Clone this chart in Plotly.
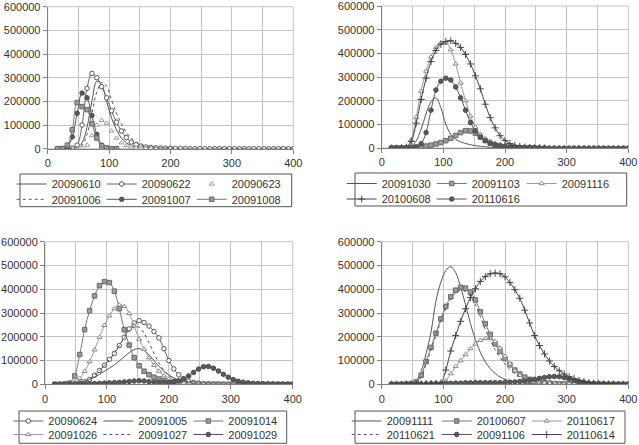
import plotly.graph_objects as go

# ---------------- data (values in thousands) ----------------
X = [16, 24, 32, 40, 48, 56, 64, 72, 80, 88,
     96, 104, 112, 120, 128, 136, 144, 152, 160, 168,
     176, 184, 192, 200, 208, 216, 224, 232, 240, 248,
     256, 264, 272, 280, 288, 296, 304, 312, 320, 328,
     336, 344, 352, 360, 368, 376, 384, 392, 400]

X_TICKS = [0, 100, 200, 300, 400]
Y_TICKS = [0, 100000, 200000, 300000, 400000, 500000, 600000]

# panel 1 (top left)
p1_20090610 = [0, 0, 0, 1, 5, 25, 90, 200, 285, 270,
               200, 130, 80, 45, 25, 13, 7, 4, 2, 1,
               1, 0, 0, 0, 0, 0, 0, 0, 0, 0,
               0, 0, 0, 0, 0, 0, 0, 0, 0, 0,
               0, 0, 0, 0, 0, 0, 0, 0, 0]
p1_20090622 = [0, 0, 1, 3, 15, 100, 255, 318, 300, 262,
               215, 160, 112, 75, 47, 28, 17, 11, 7, 5,
               4, 3, 2, 2, 1, 1, 1, 0, 0, 0,
               0, 0, 0, 0, 0, 0, 0, 0, 0, 0,
               0, 0, 0, 0, 0, 0, 0, 0, 0]
p1_20090623 = [0, 0, 0, 0, 1, 3, 15, 55, 100, 120,
               108, 75, 45, 25, 13, 7, 4, 2, 1, 1,
               0, 0, 0, 0]
p1_20091006 = [0, 0, 0, 1, 3, 15, 60, 150, 240, 280,
               265, 205, 150, 105, 70, 45, 28, 17, 10, 6,
               4, 2, 1, 0, 0, 0, 0, 0, 0, 0,
               0, 0, 0, 0, 0, 0, 0, 0, 0, 0,
               0, 0, 0, 0, 0, 0, 0, 0, 0]
p1_20091007 = [0, 0, 8, 50, 150, 235, 215, 140, 60, 15,
               3, 0, 0]
p1_20091008 = [0, 1, 15, 80, 195, 178, 165, 105, 45, 12,
               3, 0, 0]

# panel 2 (top right)
p2_20091030 = [0, 0, 0, 1, 6, 30, 80, 145, 195, 212,
               170, 100, 58, 37, 26, 19, 14, 10, 7, 5,
               3, 2, 1, 1, 0, 0, 0, 0, 0, 0,
               0, 0, 0, 0, 0, 0, 0, 0, 0, 0,
               0, 0, 0, 0, 0, 0, 0, 0, 0]
p2_20091103 = [0, 0, 0, 1, 2, 3, 5, 8, 12, 17,
               23, 31, 41, 53, 65, 73, 72, 62, 47, 32,
               20, 12, 7, 4, 3, 2, 1, 1, 0, 0]
p2_20091116 = [0, 0, 1, 5, 35, 130, 240, 325, 385, 425,
               445, 445, 415, 355, 275, 200, 135, 88, 58, 40,
               29, 21, 15, 10, 7, 5, 3, 2, 1, 1,
               0]
p2_20100608 = [0, 0, 1, 4, 28, 105, 205, 295, 365, 412,
               438, 450, 453, 442, 425, 395, 355, 305, 250, 185,
               128, 85, 52, 32, 19, 11, 7, 4, 2, 1,
               1, 0]
p2_20110616 = [0, 0, 0, 1, 2, 5, 18, 65, 160, 245,
               282, 295, 287, 258, 212, 160, 108, 72, 47, 31,
               21, 14, 10, 7, 5, 4, 3, 2, 2, 1,
               1, 1, 0, 0, 0, 0, 0, 0, 0, 0,
               0, 0, 0, 0, 0, 0, 0, 0, 0]

# panel 3 (bottom left)
p3_20090624 = [0, 0, 0, 1, 3, 6, 11, 20, 38, 58,
               80, 105, 130, 163, 198, 233, 258, 268, 260, 245,
               222, 195, 150, 100, 65, 40, 23, 13, 8, 5,
               3, 2, 1, 1, 0, 0, 0, 0, 0, 0,
               0, 0, 0, 0, 0, 0, 0, 0, 0]
p3_20091005 = [0, 0, 0, 1, 2, 6, 12, 20, 30, 42,
               55, 68, 82, 98, 116, 133, 146, 150, 142, 124,
               100, 76, 55, 39, 27, 18, 12, 7, 4, 2,
               1, 0]
p3_20091014 = [0, 0, 1, 5, 35, 125, 230, 310, 372, 415,
               432, 428, 392, 318, 230, 165, 112, 78, 55, 40,
               30, 22, 15, 10, 7, 5, 3, 2, 1, 1,
               0, 0, 0, 0, 0, 0, 0, 0, 0, 0,
               0, 0, 0, 0, 0, 0, 0, 0, 0]
p3_20091026 = [0, 0, 0, 2, 8, 25, 55, 95, 145, 198,
               248, 288, 318, 334, 328, 298, 245, 190, 148, 112,
               80, 55, 36, 23, 14, 9, 5, 3, 2, 1,
               0]
p3_20091027 = [0, 0, 0, 1, 2, 6, 13, 24, 38, 56,
               78, 103, 132, 163, 195, 225, 243, 240, 215, 175,
               130, 90, 60, 38, 24, 15, 9, 5, 3, 2,
               1, 0]
p3_20091029 = [0, 0, 0, 1, 1, 2, 2, 3, 3, 4,
               5, 6, 7, 8, 10, 12, 14, 15, 14, 11,
               9, 8, 8, 9, 11, 15, 23, 35, 50, 64,
               74, 75, 68, 56, 42, 30, 20, 13, 9, 6,
               4, 3, 2, 1, 1, 0, 0, 0, 0]

# panel 4 (bottom right)
p4_20091111 = [0, 0, 0, 1, 3, 15, 55, 130, 220, 350,
               430, 478, 495, 470, 410, 335, 255, 188, 135, 95,
               66, 46, 31, 21, 15, 10, 7, 5, 3, 2,
               1, 1, 0, 0]
p4_20100607 = [0, 0, 0, 1, 3, 10, 38, 95, 155, 215,
               275, 328, 368, 396, 408, 405, 388, 355, 305, 255,
               210, 170, 138, 108, 82, 60, 43, 30, 21, 14,
               10, 7, 5, 3, 2, 1, 1, 0, 0, 0,
               0, 0, 0, 0, 0, 0, 0, 0, 0]
p4_20110617 = [0, 0, 0, 0, 1, 1, 2, 2, 3, 3,
               4, 15, 45, 75, 100, 125, 150, 170, 185, 193,
               192, 180, 152, 118, 86, 57, 37, 23, 15, 10,
               7, 5, 4, 3, 2, 2, 1, 1, 0, 0]
p4_20110621 = [0, 0, 0, 0, 2, 8, 30, 85, 145, 205,
               265, 318, 358, 385, 395, 390, 370, 335, 285, 232,
               185, 145, 112, 85, 62, 45, 32, 22, 15, 10,
               7, 5, 3, 2, 1, 1, 0]
p4_20091106 = [0, 0, 0, 1, 1, 1, 2, 2, 3, 3,
               3, 4, 4, 5, 5, 6, 6, 7, 7, 7,
               7, 7, 7, 8, 9, 10, 12, 14, 17, 21,
               25, 29, 32, 33, 32, 28, 22, 16, 11, 8,
               5, 4, 3, 2, 1, 1, 0, 0, 0]
p4_20110614 = [0, 0, 0, 1, 1, 2, 2, 3, 3, 4,
               6, 60, 140, 205, 265, 318, 365, 402, 433, 453,
               465, 468, 465, 452, 428, 398, 362, 312, 258, 205,
               163, 128, 98, 75, 57, 43, 32, 24, 17, 12,
               8, 5, 3, 2, 1, 1, 0, 0, 0]

# ---------------- styles ----------------
FONT = "Liberation Sans, Arial, sans-serif"
GRID = "#c4c4c4"
MS = 4.5

STY = {
    "solid": dict(mode="lines", line=dict(color="#555555", width=1)),
    "dot": dict(mode="lines", line=dict(color="#555555", width=1, dash="dot")),
    "circ_open": dict(mode="lines+markers", line=dict(color="#666666", width=1),
                      marker=dict(symbol="circle", size=MS, color="white",
                                  line=dict(color="#555555", width=1))),
    "circ_fill": dict(mode="lines+markers", line=dict(color="#555555", width=1),
                      marker=dict(symbol="circle", size=MS, color="#5a5a5a",
                                  line=dict(color="#4a4a4a", width=1))),
    "square": dict(mode="lines+markers", line=dict(color="#777777", width=1),
                   marker=dict(symbol="square", size=MS, color="#9a9a9a",
                               line=dict(color="#6a6a6a", width=1))),
    "tri": dict(mode="lines+markers", line=dict(color="#9a9a9a", width=1),
                marker=dict(symbol="triangle-up", size=MS, color="white",
                            line=dict(color="#888888", width=1))),
    "tri_only": dict(mode="markers",
                     marker=dict(symbol="triangle-up", size=MS, color="white",
                                 line=dict(color="#999999", width=1))),
    "plus": dict(mode="lines+markers", line=dict(color="#444444", width=1),
                 marker=dict(symbol="cross-thin", size=5, color="#444444",
                             line=dict(color="#444444", width=1))),
}

panels = [
    ("x", "y", [
        ("20090610", p1_20090610, "solid", "legend"),
        ("20090622", p1_20090622, "circ_open", "legend"),
        ("20090623", p1_20090623, "tri_only", "legend"),
        ("20091006", p1_20091006, "dot", "legend2"),
        ("20091007", p1_20091007, "circ_fill", "legend2"),
        ("20091008", p1_20091008, "square", "legend2"),
    ]),
    ("x2", "y2", [
        ("20091030", p2_20091030, "solid", "legend3"),
        ("20091103", p2_20091103, "square", "legend3"),
        ("20091116", p2_20091116, "tri", "legend3"),
        ("20100608", p2_20100608, "plus", "legend4"),
        ("20110616", p2_20110616, "circ_fill", "legend4"),
    ]),
    ("x3", "y3", [
        ("20090624", p3_20090624, "circ_open", "legend5"),
        ("20091005", p3_20091005, "solid", "legend5"),
        ("20091014", p3_20091014, "square", "legend5"),
        ("20091026", p3_20091026, "tri", "legend6"),
        ("20091027", p3_20091027, "dot", "legend6"),
        ("20091029", p3_20091029, "circ_fill", "legend6"),
    ]),
    ("x4", "y4", [
        ("20091111", p4_20091111, "solid", "legend7"),
        ("20100607", p4_20100607, "square", "legend7"),
        ("20110617", p4_20110617, "tri", "legend7"),
        ("20110621", p4_20110621, "dot", "legend8"),
        ("20091106", p4_20091106, "circ_fill", "legend8"),
        ("20110614", p4_20110614, "plus", "legend8"),
    ]),
]

fig = go.Figure()
for xa, ya, series in panels:
    for name, vals, sty, lg in series:
        st = STY[sty]
        fig.add_trace(go.Scatter(
            x=X[:len(vals)], y=[v * 1000 for v in vals], name=name,
            xaxis=xa, yaxis=ya, legend=lg, showlegend=True,
            line_shape="spline", **st))

W, H = 639, 445
def px(v):
    return v / W
def py(v):
    return 1 - v / H

# plot areas in pixels: (left, right, top, bottom)
areas = {
    "1": (47.7, 293.3, 6.7, 148.7),
    "2": (381.7, 628.3, 6.0, 148.0),
    "3": (45.0, 292.7, 241.7, 384.3),
    "4": (381.7, 628.3, 241.7, 384.3),
}

layout = dict(width=W, height=H, margin=dict(l=0, r=0, t=0, b=0, autoexpand=False),
              paper_bgcolor="white", plot_bgcolor="white",
              font=dict(family=FONT, size=11, color="#333333"))
shapes = []
for k, (l, r, t, b) in areas.items():
    xn = "xaxis" if k == "1" else "xaxis" + k
    yn = "yaxis" if k == "1" else "yaxis" + k
    xid = "x" if k == "1" else "x" + k
    yid = "y" if k == "1" else "y" + k
    layout[xn] = dict(domain=[px(l), px(r)], anchor=yid, range=[0, 400],
                      tickvals=X_TICKS, showgrid=True, gridcolor=GRID, gridwidth=1,
                      minor=dict(dtick=50, tick0=0, showgrid=True, gridcolor=GRID, gridwidth=1),
                      showline=True, linecolor="#808080", linewidth=1,
                      ticks="outside", ticklen=4, tickcolor="#808080",
                      zeroline=False, automargin=False, ticklabeloverflow="allow",
                      tickfont=dict(size=11, color="#333333"))
    layout[yn] = dict(domain=[py(b), py(t)], anchor=xid, range=[0, 600000],
                      tickvals=Y_TICKS, tickformat="d", showgrid=True, gridcolor=GRID,
                      showline=True, linecolor="#808080", linewidth=1,
                      ticks="outside", ticklen=4, tickcolor="#808080",
                      zeroline=False, automargin=False, ticklabeloverflow="allow",
                      tickfont=dict(size=11, color="#333333"))
    shapes.append(dict(type="rect", xref="paper", yref="paper",
                       x0=px(l), x1=px(r), y0=py(b), y1=py(t),
                       line=dict(color=GRID, width=1), layer="below"))

# legend boxes (pixels: left, right, top, bottom)
boxes = [(20, 291.7, 174, 206.7), (355, 626.7, 173, 206),
         (19, 286.7, 411, 443.3), (355, 625, 411, 443.3)]
for (l, r, t, b) in boxes:
    shapes.append(dict(type="rect", xref="paper", yref="paper",
                       x0=px(l), x1=px(r), y0=py(b), y1=py(t),
                       line=dict(color="#555555", width=1), fillcolor="rgba(0,0,0,0)"))
layout["shapes"] = shapes

# legend rows: (text start x px, row center y px)
rows = {
    "legend": (56.7, 184), "legend2": (56.7, 199.3),
    "legend3": (386.7, 183.5), "legend4": (386.7, 199),
    "legend5": (53.3, 421), "legend6": (53.3, 434.5),
    "legend7": (391.7, 421), "legend8": (391.7, 434.5),
}
for lg, (tx, cy) in rows.items():
    layout[lg] = dict(x=px(tx - 45), y=py(cy), xanchor="left", yanchor="middle",
                      orientation="h", bgcolor="rgba(0,0,0,0)", borderwidth=0,
                      font=dict(family=FONT, size=11, color="#333333"),
                      entrywidth=45, entrywidthmode="pixels", itemwidth=30,
                      tracegroupgap=0, traceorder="normal")

fig.update_layout(**layout)
fig.write_html("out.html", config={"displayModeBar": False},
               post_script="document.body.style.margin='0px';document.body.style.overflow='hidden';")
